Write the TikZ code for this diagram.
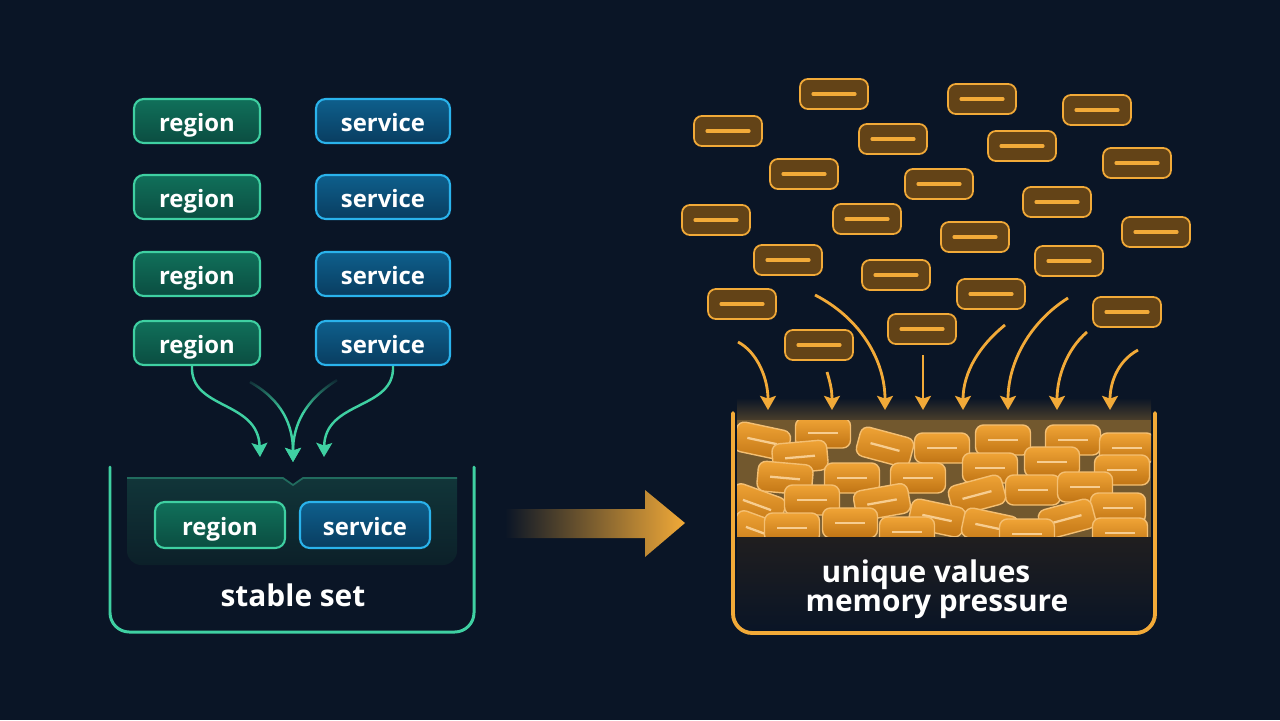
\documentclass[tikz,border=0pt]{standalone}
\usepackage{fontspec}
\setmainfont{Open Sans}
\usetikzlibrary{arrows.meta,calc,fadings}
\definecolor{bgnavy}{HTML}{0A1526}
\definecolor{mint}{HTML}{3FD0A2}
\definecolor{regiontop}{HTML}{10705A}
\definecolor{regionbot}{HTML}{0B4D41}
\definecolor{servline}{HTML}{2AB3EC}
\definecolor{servtop}{HTML}{0E5F8C}
\definecolor{servbot}{HTML}{093D60}
\definecolor{amber}{HTML}{F2AA38}
\definecolor{chipfill}{HTML}{634317}
\definecolor{piletop}{HTML}{F0A436}
\definecolor{pilebot}{HTML}{C07414}
\definecolor{traytop}{HTML}{113539}
\definecolor{traybot}{HTML}{0C2029}
\definecolor{bandtop}{HTML}{201E1F}
\tikzfading[name=fadeout, top color=transparent!0, bottom color=transparent!100]

\tikzset{
  keybox/.style={rounded corners=5.5pt, line width=1.2pt, minimum height=0.88cm, inner sep=0pt,
    text height=14pt, text depth=2.2pt,
    text=white, font=\fontsize{13.6}{16}\selectfont\bfseries},
  regionbox/.style={keybox, draw=mint, top color=regiontop, bottom color=regionbot, minimum width=2.52cm},
  servicebox/.style={keybox, draw=servline, top color=servtop, bottom color=servbot, minimum width=2.68cm},
  chip/.style={draw=amber, fill=chipfill, line width=1pt, rounded corners=4.5pt,
    minimum width=1.36cm, minimum height=0.6cm, inner sep=0pt,
    path picture={\draw[amber, line width=1.8pt, line cap=round] ($(path picture bounding box.center)+(-0.42cm,0)$) -- ++(0.84cm,0);}},
  pilechip/.style={draw=piletop!70!white, top color=piletop, bottom color=pilebot, line width=0.8pt, rounded corners=4.5pt,
    minimum width=1.1cm, minimum height=0.6cm, inner sep=0pt,
    path picture={\draw[piletop!55!white, line width=1.3pt] ($(path picture bounding box.center)+(-0.3cm,0)$) -- ++(0.6cm,0);}},
  label/.style={text=white, font=\fontsize{17}{20}\selectfont\bfseries},
  mintflow/.style={mint, line width=1.4pt, -{Stealth[length=8pt, width=9pt, inset=1.5pt]}},
  amberflow/.style={amber, line width=1.6pt, -{Stealth[length=8pt, width=9pt, inset=1.5pt]}},
}

\begin{document}
\begin{tikzpicture}[x=0.02cm, y=-0.02cm]
  \fill[bgnavy] (0,0) rectangle (1280,720);
  \useasboundingbox (0,0) rectangle (1280,720);

  % left: region / service pairs
  \foreach \ry [count=\i] in {121,197,274,343} {
    \node[regionbox] (region\i) at (197,\ry) {region};
    \node[servicebox] (service\i) at (383,\ry) {service};
  }

  % stable set bucket
  \shade[top color=traytop, bottom color=traybot] (127,478) -- (283,478) -- (293,485) -- (303,478) -- (457,478)
    [rounded corners=8pt] -- (457,565) -- (127,565) [sharp corners] -- cycle;
  \draw[mint!35!traytop, line width=1pt] (127,478) -- (283,478) -- (293,485) -- (303,478) -- (457,478);
  \draw[mint, line width=1.7pt, line cap=round, rounded corners=11pt] (110,467) -- (110,632) -- (474,632) -- (474,467);
  \node[regionbox, minimum width=2.6cm, minimum height=0.92cm] (setregion) at (220,525) {region};
  \node[servicebox, minimum width=2.6cm, minimum height=0.92cm] (setservice) at (365,525) {service};
  \node[label] (stable) at (293,595) {stable set};

  % flows into the stable set
  \coordinate (lin1) at (260,457);
  \coordinate (lin2) at (293,462);
  \coordinate (lin3) at (324,457);
  \coordinate (lfrom2) at (250,382);
  \coordinate (lfrom3) at (337,380);
  \draw[mintflow] (region4.south -| 192,0) .. controls (190,410) and (258,400) .. (lin1);
  \draw[mintflow] (lfrom2) .. controls (282,400) and (293,425) .. (lin2);
  \draw[mintflow] (lfrom3) .. controls (305,400) and (293,425) .. (lin2);
  \draw[mintflow] (service4.south -| 393,0) .. controls (395,410) and (325,400) .. (lin3);
  \fill[bgnavy, path fading=fadeout] (238,376) rectangle (348,412);

  % big arrow
  \shade[left color=bgnavy, middle color=amber!55!bgnavy, right color=amber]
    (505,509) -- (645,509) -- (645,490) -- (685,523) -- (645,557) -- (645,538) -- (505,538) -- cycle;

  % right: scattered values
  \foreach \cx/\cy [count=\i] in {834/94, 982/99, 1097/110, 728/131, 893/139, 1022/146, 1137/163,
      804/174, 939/184, 1057/202, 716/220, 867/219, 975/237, 1156/232, 788/260, 1069/261,
      896/275, 991/294, 742/304, 1127/312, 922/329, 819/345} {
    \node[chip] (chip\i) at (\cx,\cy) {};
  }

  % memory bucket
  \shade[top color=bgnavy, bottom color=amber!40!bgnavy] (737,398) rectangle (1151,430);
  \begin{scope}
    \clip (737,420) rectangle (1151,537);
    \fill[amber!45!bgnavy] (737,420) rectangle (1151,537);
    \foreach \px/\py/\pa [count=\i] in {762/441/-12, 823/433/0, 885/447/-15, 942/448/0, 1003/440/0,
        1073/440/0, 1127/448/0, 800/457/5, 1052/462/0, 1122/470/0, 785/478/-5, 852/478/0,
        918/478/0, 990/468/0, 1033/490/0, 1085/487/0, 757/505/-20, 812/500/0, 882/502/10,
        977/495/15, 1118/508/0, 760/532/-20, 792/528/0, 850/523/0, 937/518/-12, 1067/519/15,
        907/532/0, 990/527/-12, 1027/534/0, 1120/533/0} {
      \node[pilechip, rotate=\pa] (pile\i) at (\px,\py) {};
    }
  \end{scope}
  \shade[top color=bandtop, bottom color=bgnavy] (737,537) rectangle (1151,630);
  \draw[amber, line width=2.2pt, line cap=round, rounded corners=11pt] (733,413) -- (733,633) -- (1155,633) -- (1155,413);
  \node[label] (unique) at (926,575) {unique values};
  \node[label] (pressure) at (937,607) {memory pressure};

  % flows into the memory bucket
  \foreach \n/\x in {1/768, 2/832, 3/885, 4/923, 5/963, 6/1008, 7/1057, 8/1110}
    \coordinate (rin\n) at (\x,410);
  \draw[amberflow] (738,342) .. controls (757,352) and (768,378) .. (rin1);
  \draw[amberflow] (827,372) .. controls (831,385) and (832,392) .. (rin2);
  \draw[amberflow] (815,295) .. controls (860,318) and (885,360) .. (rin3);
  \draw[amberflow] (923,355) -- (rin4);
  \draw[amberflow] (1005,325) .. controls (980,345) and (963,372) .. (rin5);
  \draw[amberflow] (1068,298) .. controls (1030,322) and (1008,362) .. (rin6);
  \draw[amberflow] (1087,332) .. controls (1066,350) and (1057,378) .. (rin7);
  \draw[amberflow] (1138,350) .. controls (1116,362) and (1110,385) .. (rin8);
\end{tikzpicture}
\end{document}
